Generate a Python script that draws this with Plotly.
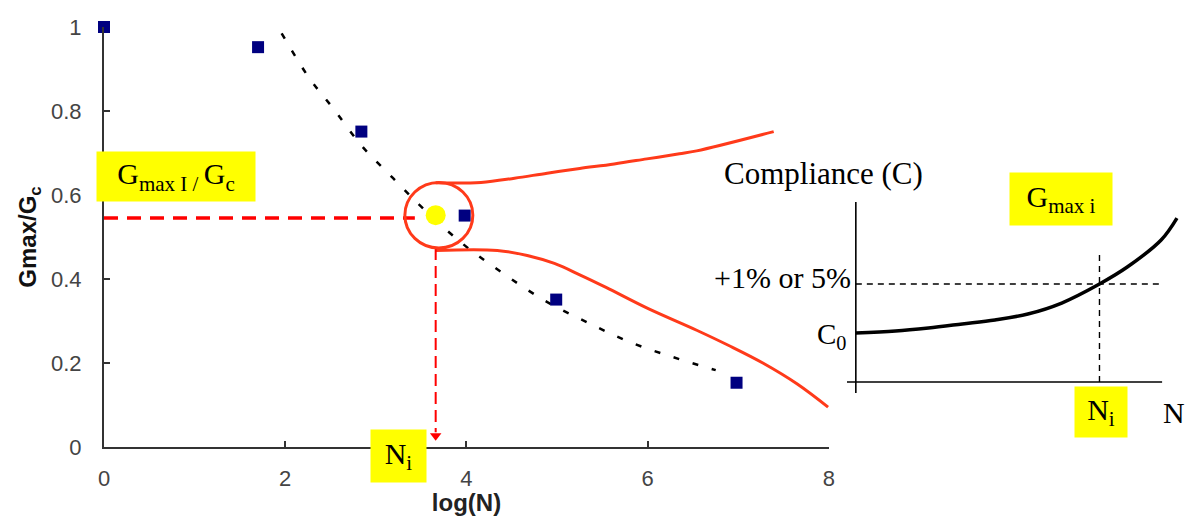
import plotly.graph_objects as go

# ---------------- data (main chart) ----------------
log_n_pts = [0.0, 1.7, 2.84, 3.98, 4.99, 6.98]
g_ratio_pts = [1.0, 0.952, 0.751, 0.551, 0.351, 0.153]

fit_log_n = [1.96, 2.26, 2.53, 2.84, 3.19, 3.54, 3.98, 4.40, 4.86, 5.33, 5.80, 6.28, 6.75]
fit_g_ratio = [0.985, 0.880, 0.806, 0.718, 0.640, 0.564, 0.480, 0.414, 0.349, 0.297, 0.250, 0.214, 0.183]

upper_log_n = [3.66, 4.16, 4.53, 4.89, 5.25, 5.63, 5.99, 6.35, 6.54, 7.39]
upper_g = [0.629, 0.630, 0.640, 0.652, 0.663, 0.674, 0.686, 0.698, 0.705, 0.751]

lower_log_n = [3.66, 4.34, 4.67, 4.97, 5.25, 5.54, 6.00, 6.54, 6.90, 7.27, 7.65, 7.99]
lower_g = [0.468, 0.468, 0.456, 0.437, 0.410, 0.380, 0.330, 0.278, 0.241, 0.200, 0.150, 0.095]

ni_log = 3.66
ni_point_g = 0.552
gmax_ratio_i = 0.545
circle_x = [3.32, 4.07]
circle_y = [0.474, 0.630]

x_ticks = [0, 2, 4, 6, 8]
y_ticks = [0, 0.2, 0.4, 0.6, 0.8, 1.0]

# ---------------- data (inset: compliance vs N) ----------------
inset_n = [0.0, 0.163, 0.298, 0.437, 0.571, 0.706, 0.845, 1.0, 1.114, 1.253, 1.318]
inset_c = [0.5, 0.520, 0.551, 0.592, 0.633, 0.694, 0.806, 1.0, 1.173, 1.449, 1.673]
inset_ni = 1.0
inset_threshold = 1.0
inset_n_end = 1.257
inset_c_top = 1.837

# ---------------- layout helpers ----------------
W, H = 1192, 516
L, R, T, B = 104, 0, 27, 69
PW = W - L - R
PH = H - T - B


def px_x(px):
    return (px - L) / PW


def px_y(py):
    return (H - B - py) / PH


RED = "#FF3A1A"
DRED = "#FF0000"
SERIF = "Liberation Serif, Times New Roman, serif"
SANS = "Liberation Sans, Arial, sans-serif"

fig = go.Figure()

# dotted trend line
fig.add_trace(go.Scatter(x=fit_log_n, y=fit_g_ratio, mode="lines",
                         line=dict(color="black", width=2.5, dash="6px,14px", shape="spline")))
# red envelope curves
fig.add_trace(go.Scatter(x=upper_log_n, y=upper_g, mode="lines",
                         line=dict(color=RED, width=3, shape="spline")))
fig.add_trace(go.Scatter(x=lower_log_n, y=lower_g, mode="lines",
                         line=dict(color=RED, width=3, shape="spline")))
# horizontal dashed guide
fig.add_trace(go.Scatter(x=[0, 3.43], y=[gmax_ratio_i, gmax_ratio_i], mode="lines",
                         line=dict(color=DRED, width=3.5, dash="14px,9px")))
# vertical dashed arrow
fig.add_trace(go.Scatter(x=[ni_log, ni_log], y=[circle_y[0], 0.035], mode="lines",
                         line=dict(color=DRED, width=2, dash="12px,6px")))
fig.add_trace(go.Scatter(x=[ni_log], y=[0.027], mode="markers",
                         marker=dict(symbol="triangle-down", size=10, color=DRED)))
# experimental points
fig.add_trace(go.Scatter(x=log_n_pts, y=g_ratio_pts, mode="markers", cliponaxis=False,
                         marker=dict(symbol="square", size=12, color="#000080")))
# highlighted point
fig.add_trace(go.Scatter(x=[ni_log], y=[ni_point_g], mode="markers",
                         marker=dict(size=20, color="#FFFF00")))

# inset curve
fig.add_trace(go.Scatter(x=inset_n, y=inset_c, xaxis="x2", yaxis="y2", mode="lines",
                         line=dict(color="black", width=3.5, shape="spline")))
fig.add_trace(go.Scatter(x=[0, inset_n_end], y=[inset_threshold, inset_threshold],
                         xaxis="x2", yaxis="y2", mode="lines",
                         line=dict(color="black", width=1.4, dash="6px,5px")))
fig.add_trace(go.Scatter(x=[inset_ni, inset_ni], y=[0, 1.296],
                         xaxis="x2", yaxis="y2", mode="lines",
                         line=dict(color="black", width=1.4, dash="6px,5px")))

shapes = [
    dict(type="circle", xref="x", yref="y", x0=circle_x[0], x1=circle_x[1],
         y0=circle_y[0], y1=circle_y[1], line=dict(color=RED, width=3)),
    dict(type="line", xref="x2", yref="y2", x0=-0.0367, x1=inset_n_end, y0=0, y1=0,
         line=dict(color="black", width=1.6)),
    dict(type="line", xref="x2", yref="y2", x0=0, x1=0, y0=-0.112, y1=inset_c_top,
         line=dict(color="black", width=1.6)),
]


def box(text, cx, cy, w, h):
    return dict(text=text, xref="paper", yref="paper", x=px_x(cx), y=px_y(cy),
                xanchor="center", yanchor="middle", showarrow=False,
                bgcolor="#FFFF00", width=w, height=h, borderpad=0,
                font=dict(family=SERIF, size=30, color="black"))


def label(text, x, y, xanchor, size=30):
    return dict(text=text, xref="paper", yref="paper", x=px_x(x), y=px_y(y),
                xanchor=xanchor, yanchor="middle", showarrow=False,
                font=dict(family=SERIF, size=size, color="black"))


annotations = [
    box("G<sub>max I</sub><sub> / </sub>G<sub>c</sub>", 176, 176.5, 158, 49),
    box("N<sub>i</sub>", 400.5, 456, 55, 52),
    box("G<sub>max i</sub>", 1066, 199, 102, 52),
    box("N<sub>i</sub>", 1107, 412, 52, 50),
    label("Compliance (C)", 725, 173, "left", 31),
    label("+1% or 5%", 857, 277, "right"),
    label("C<sub>0</sub>", 852, 336, "right", 29),
    label("N", 1180, 412, "center"),
]

axis_common = dict(showline=True, linecolor="#333333", linewidth=2, ticks="inside",
                   ticklen=6, tickwidth=2, tickcolor="#333333", showgrid=False,
                   zeroline=False, tickfont=dict(family=SANS, size=22, color="#444444"))

fig.update_layout(
    width=W, height=H, margin=dict(l=L, r=R, t=T, b=B),
    plot_bgcolor="white", paper_bgcolor="white", showlegend=False,
    xaxis=dict(domain=[0, 729 / PW], range=[0, 8], tickvals=x_ticks,
               ticklabelstandoff=11,
               title=dict(text="<b>log(N)</b>", standoff=5,
                          font=dict(family=SANS, size=24, color="#222222")),
               **axis_common),
    yaxis=dict(domain=[0, 1], range=[0, 1], tickvals=y_ticks,
               ticklabelstandoff=16,
               title=dict(text="<b>Gmax/G<sub>c</sub></b>", standoff=8,
                          font=dict(family=SANS, size=24, color="#111111")),
               **axis_common),
    xaxis2=dict(domain=[px_x(851), 1], range=[(851 - 860) / 245, (W - 860) / 245],
                visible=False, anchor="y2"),
    yaxis2=dict(domain=[0, 1], range=[(382 - (H - B)) / 98, (382 - T) / 98],
                visible=False, anchor="x2"),
    shapes=shapes,
    annotations=annotations,
)

fig.write_html("out.html")
